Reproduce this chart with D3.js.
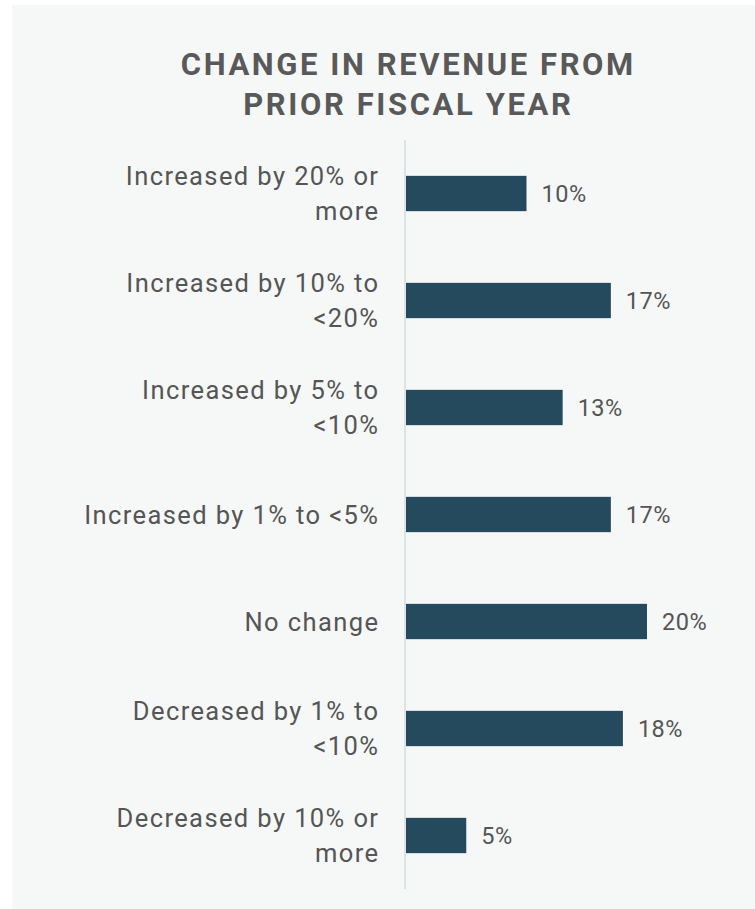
<!DOCTYPE html>
<html>
<head>
<meta charset="utf-8">
<script src="https://cdn.jsdelivr.net/npm/d3@7"></script>
<style>
  html, body { margin: 0; padding: 0; background: #ffffff; }
  svg { display: block; }
  text { font-family: Roboto, "Noto Sans", sans-serif; }
</style>
</head>
<body>
<svg id="chart" width="755" height="909"></svg>
<script>
// Survey responses: change in revenue from prior fiscal year
const titleLines = ["CHANGE IN REVENUE FROM", "PRIOR FISCAL YEAR"];
const categories = [
  ["Increased by 20% or", "more"],
  ["Increased by 10% to", "<20%"],
  ["Increased by 5% to", "<10%"],
  ["Increased by 1% to <5%"],
  ["No change"],
  ["Decreased by 1% to", "<10%"],
  ["Decreased by 10% or", "more"]
];
const values = [10, 17, 13, 17, 20, 18, 5];
const valueLabels = ["10%", "17%", "13%", "17%", "20%", "18%", "5%"];

const svg = d3.select("#chart");

// panel background
svg.append("rect")
  .attr("x", 12).attr("y", 5)
  .attr("width", 755 - 12).attr("height", 909 - 5)
  .attr("fill", "#f6f8f8");

// title
const titleSpacing = 2.6;
svg.append("g").selectAll("text")
  .data(titleLines)
  .join("text")
  .attr("x", 407 + titleSpacing / 2)
  .attr("y", (d, i) => 75 + i * 40)
  .attr("text-anchor", "middle")
  .attr("font-size", 31)
  .attr("font-weight", 700)
  .attr("letter-spacing", titleSpacing)
  .attr("fill", "#595959")
  .text(d => d);

const ids = categories.map((c, i) => i);
const y = d3.scaleBand()
  .domain(ids)
  .range([140, 889])
  .paddingInner(0.67)
  .paddingOuter(0.335);

const x = d3.scaleLinear()
  .domain([0, 20])
  .range([406, 647]);

// baseline axis
svg.append("line")
  .attr("x1", x(0) - 1).attr("x2", x(0) - 1)
  .attr("y1", 140).attr("y2", 889)
  .attr("stroke", "#dce3e6")
  .attr("stroke-width", 2);

// bars
svg.append("g").selectAll("rect")
  .data(values)
  .join("rect")
  .attr("x", x(0))
  .attr("y", (d, i) => y(i))
  .attr("width", d => x(d) - x(0))
  .attr("height", y.bandwidth())
  .attr("fill", "#264a5d");

// value labels
svg.append("g").selectAll("text")
  .data(values)
  .join("text")
  .attr("x", d => x(d) + 15)
  .attr("y", (d, i) => y(i) + y.bandwidth() / 2 + 8.5)
  .attr("font-size", 23.5)
  .attr("letter-spacing", 0.5)
  .attr("fill", "#555555")
  .text((d, i) => valueLabels[i]);

// category labels
const labelSpacing = 1.4;
const catG = svg.append("g");
categories.forEach((lines, i) => {
  const c = y(i) + y.bandwidth() / 2;
  const t = catG.append("text")
    .attr("text-anchor", "end")
    .attr("font-size", 25.5)
    .attr("letter-spacing", labelSpacing)
    .attr("fill", "#555555");
  lines.forEach((ln, j) => {
    const base = c + 9 + (j - (lines.length - 1) / 2) * 35;
    t.append("tspan").attr("x", 378 + labelSpacing).attr("y", base).text(ln);
  });
});
</script>
</body>
</html>
